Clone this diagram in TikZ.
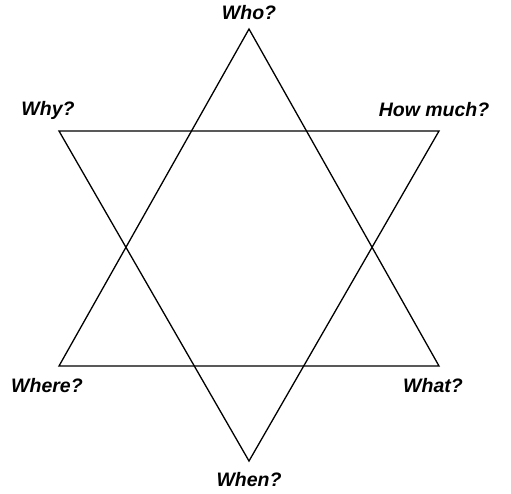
\documentclass[tikz,border=0pt]{standalone}
\usepackage{fontspec}
\setmainfont{Liberation Sans}
\usepackage{tikz}

\tikzset{
  lbl/.style={font=\fontsize{19.5}{21}\selectfont\bfseries\itshape, inner sep=0pt},
  edge/.style={line width=1.3pt, line join=miter}
}

\begin{document}
\begin{tikzpicture}[x=1pt,y=-1pt]
    \useasboundingbox (0,0) rectangle (511,493);
    % Corners of the star
    \coordinate (top) at (249,29);
    \coordinate (bot) at (249,461);
    \coordinate (ul) at (59,131);
    \coordinate (ur) at (439,131);
    \coordinate (ll) at (59,366);
    \coordinate (lr) at (439,366);
    % Two triangles
    \draw[edge] (top) -- (ll) -- (lr) -- cycle;
    \draw[edge] (bot) -- (ul) -- (ur) -- cycle;
    % Labels
    \node[lbl] (who) at (249,13) {Who?};
    \node[lbl] (why) at (48,110) {Why?};
    \node[lbl] (howmuch) at (434,110) {How much?};
    \node[lbl] (where) at (47,386) {Where?};
    \node[lbl] (what) at (433,386) {What?};
    \node[lbl] (when) at (249,480) {When?};
\end{tikzpicture}
\end{document}
